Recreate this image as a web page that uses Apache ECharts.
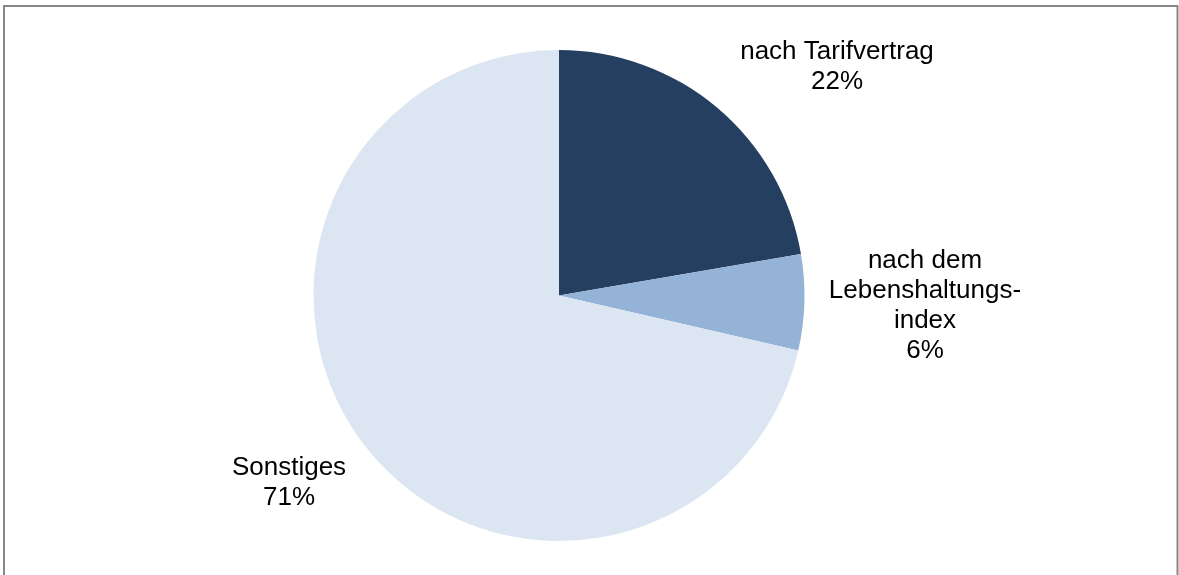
<!DOCTYPE html>
<html>
<head>
<meta charset="utf-8">
<script src="https://cdn.jsdelivr.net/npm/echarts@6/dist/echarts.min.js"></script>
<style>
  html, body { margin: 0; padding: 0; background: #fff; }
  #chart { width: 1179px; height: 575px; }
</style>
</head>
<body>
<div id="chart"></div>
<script>
// Slice names and shares
var categories = ["nach Tarifvertrag", "nach dem\nLebenshaltungs-\nindex", "Sonstiges"];
var shares = [22.3, 6.3, 71.4];
var sliceColors = ["#243f60", "#95b3d7", "#dce6f2"];

// where the data labels sit (label centres)
var labelSpots = [[837, 67], [925, 306], [289, 483]];

var chart = echarts.init(document.getElementById("chart"));

var pieData = categories.map(function (name, i) {
  return { name: name, value: shares[i], itemStyle: { color: sliceColors[i] } };
});

var option = {
  animation: false,
  graphic: [
    {
      type: "rect",
      shape: { x: 4, y: 6, width: 1173.5, height: 600 },
      style: { fill: "none", stroke: "#878787", lineWidth: 2 },
      silent: true
    }
  ],
  series: [
    {
      type: "pie",
      center: [559, 295.5],
      radius: 245.5,
      startAngle: 90,
      clockwise: true,
      avoidLabelOverlap: false,
      itemStyle: { borderWidth: 0 },
      label: {
        show: true,
        position: "outside",
        fontFamily: "Liberation Sans, Arial, sans-serif",
        fontSize: 26,
        lineHeight: 30,
        color: "#000",
        align: "center",
        formatter: function (p) {
          return p.name + "\n" + Math.round(p.percent) + "%";
        }
      },
      labelLine: { show: false },
      labelLayout: function (params) {
        var spot = labelSpots[params.dataIndex];
        return { x: spot[0], y: spot[1], align: "center", verticalAlign: "middle" };
      },
      emphasis: { disabled: true },
      data: pieData
    }
  ]
};

chart.setOption(option);
</script>
</body>
</html>
